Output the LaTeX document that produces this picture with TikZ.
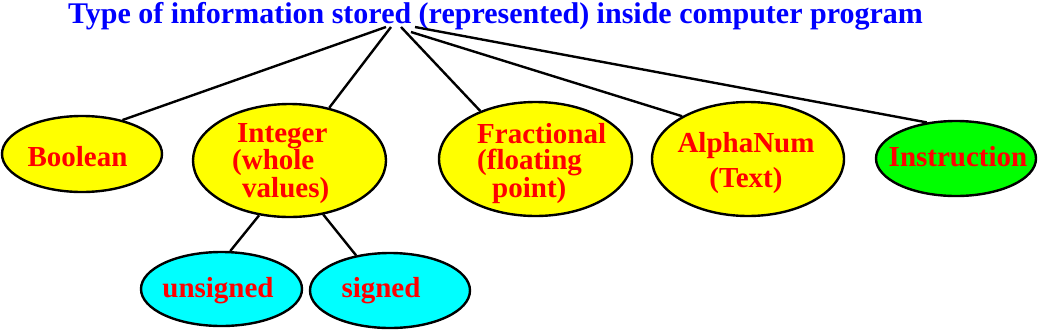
\documentclass[tikz,border=0pt]{standalone}
\usepackage{fontspec}
\setmainfont{Liberation Serif}
\usetikzlibrary{shapes.geometric}
\definecolor{tblue}{RGB}{0,0,255}
\definecolor{lred}{RGB}{255,0,0}
\definecolor{fyellow}{RGB}{255,255,0}
\definecolor{fcyan}{RGB}{0,255,255}
\definecolor{fgreen}{RGB}{0,255,0}
\tikzset{
  oval/.style={ellipse, draw=black, line width=2.4pt, inner sep=0pt},
  lbl/.style={text=lred, inner sep=0pt, font=\bfseries\fontsize{29}{25}\selectfont},
  conn/.style={line width=2.4pt, draw=black}
}
\begin{document}
\begin{tikzpicture}[x=1pt,y=-1pt]
\useasboundingbox (0,0) rectangle (1038,330);
% title
\node[anchor=base west, inner sep=0pt, text=tblue, font=\bfseries\fontsize{30}{30}\selectfont] (title) at (68,23) {Type of information stored (represented) inside computer program};
\coordinate (t1) at (386,27);
\coordinate (t2) at (391,27);
\coordinate (t3) at (401,27);
\coordinate (t4) at (411,32);
\coordinate (t5) at (415,27);
% ellipses
\node[oval, fill=fyellow, minimum width=160pt, minimum height=76pt] (bool) at (82,154) {};
\node[oval, fill=fyellow, minimum width=193pt, minimum height=113pt] (int) at (289.5,160.5) {};
\node[oval, fill=fyellow, minimum width=193pt, minimum height=114pt] (frac) at (535.5,159) {};
\node[oval, fill=fyellow, minimum width=192pt, minimum height=114pt] (alpha) at (748,159) {};
\node[oval, fill=fgreen, minimum width=160pt, minimum height=75pt] (instr) at (956,158.5) {};
\node[oval, fill=fcyan, minimum width=161pt, minimum height=74pt] (uns) at (221.5,289) {};
\node[oval, fill=fcyan, minimum width=160pt, minimum height=75pt] (sgn) at (390,290.5) {};
% labels (base anchor = baseline of last line)
\node[lbl, anchor=base] (boolT) at (77.5,166) {Boolean};
\node[lbl, anchor=base west, align=left] (intT) at (232,197) {\hspace{5pt}Integer\\(whole\\\hspace{10pt}values)};
\node[lbl, anchor=base west, align=left, font=\bfseries\fontsize{29}{26}\selectfont] (fracT) at (477,197) {Fractional\\(floating\\\hspace{15pt}point)};
\node[lbl, anchor=base, align=center, font=\bfseries\fontsize{29}{35}\selectfont] (alphaT) at (746,187) {AlphaNum\\(Text)};
\node[lbl, anchor=base] (instrT) at (958,166) {Instruction};
\node[lbl, anchor=base] (unsT) at (218,297) {unsigned};
\node[lbl, anchor=base] (sgnT) at (381,297) {signed};
% connectors
\draw[conn] (t1) -- (bool.40);
\draw[conn] (t2) -- (int.53);
\draw[conn] (t3) -- (frac.139);
\draw[conn] (t4) -- (alpha.147);
\draw[conn] (t5) -- (instr.129);
\draw[conn] (int.241) -- (uns.77);
\draw[conn] (int.302) -- (sgn.134);
\end{tikzpicture}
\end{document}
